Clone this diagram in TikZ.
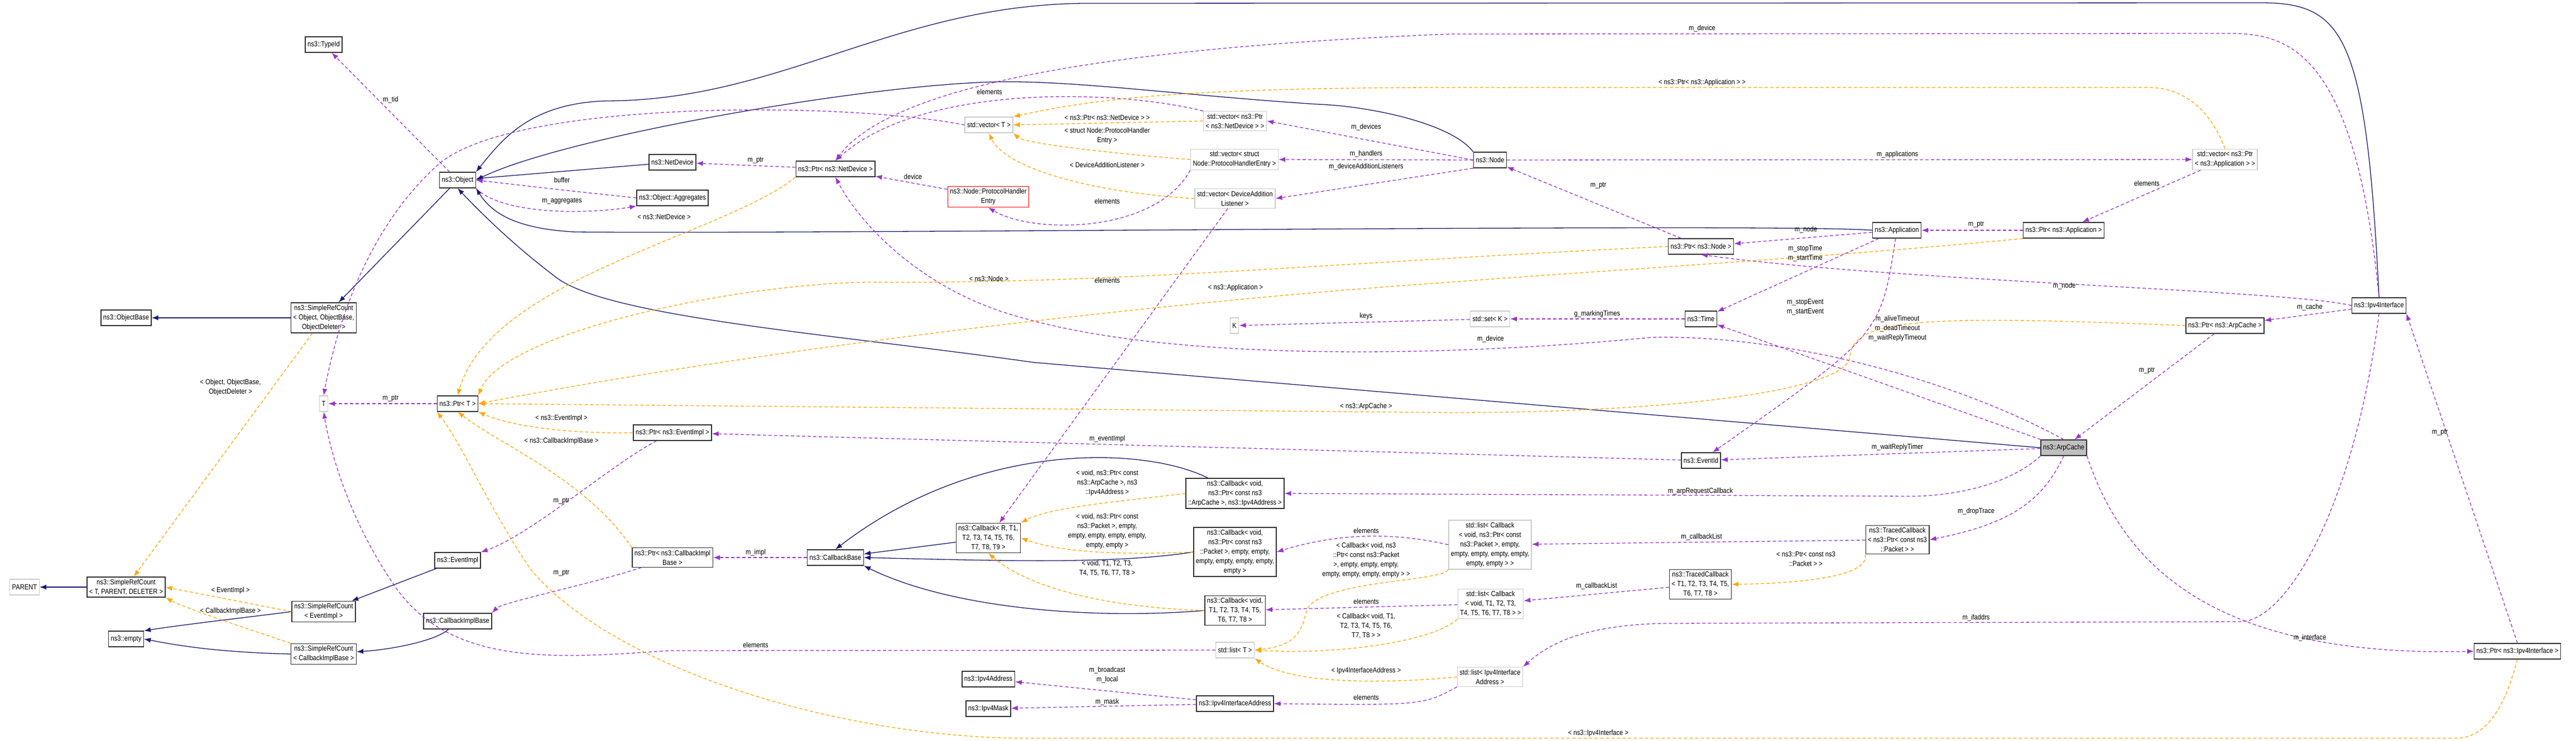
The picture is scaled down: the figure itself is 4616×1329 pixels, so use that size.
\documentclass[tikz,border=0pt]{standalone}
\usepackage{fontspec}
\setmainfont{Liberation Sans}[FakeStretch=0.86]
\usetikzlibrary{arrows.meta}
\definecolor{navyc}{HTML}{191970}
\definecolor{purp}{HTML}{9A32CD}
\definecolor{orng}{HTML}{FFA500}
\begin{document}
\begin{tikzpicture}[x=1pt,y=-1pt,
  box/.style={draw=black!80,line width=1.4pt,fill=white,inner sep=4pt,minimum height=28pt,align=center,font=\fontsize{13}{17}\selectfont},
  gbox/.style={box,draw=black!20},
  rbox/.style={box,draw=red},
  lab/.style={inner sep=0pt,align=center,font=\fontsize{13}{17}\selectfont},
  inh/.style={draw=navyc,line width=1.3pt,-{Latex[length=12pt,width=9pt]}},
  use/.style={draw=purp,line width=1.3pt,dash pattern=on 6pt off 4pt,-{Latex[length=12pt,width=9pt]}},
  tmpl/.style={draw=orng,line width=1.3pt,dash pattern=on 6pt off 4pt,-{Latex[length=12pt,width=9pt]}}]
\useasboundingbox (0,0) rectangle (4616,1329);
% nodes
\node[box] (typeid) at (580,80) {ns3::TypeId};
\node[box] (obj) at (820,323) {ns3::Object};
\node[box] (src0) at (580,570) {ns3::SimpleRefCount\\< Object, ObjectBase,\\ObjectDeleter >};
\node[box] (objbase) at (226,570) {ns3::ObjectBase};
\node[box] (netdev) at (1205,291) {ns3::NetDevice};
\node[box] (agg) at (1205,355) {ns3::Object::Aggregates};
\node[box] (ptrnd) at (1497,303) {ns3::Ptr< ns3::NetDevice >};
\node[rbox] (phe) at (1771,353) {ns3::Node::ProtocolHandler\\Entry};
\node[gbox] (vecT) at (1772,224) {std::vector< T >};
\node[gbox] (vecnd) at (2213,217) {std::vector< ns3::Ptr\\< ns3::NetDevice > >};
\node[gbox] (vecphe) at (2212,286) {std::vector< struct\\Node::ProtocolHandlerEntry >};
\node[gbox] (vecdal) at (2213,356) {std::vector< DeviceAddition\\Listener >};
\node[gbox] (K) at (2212,584) {K};
\node[box] (node) at (2670,287) {ns3::Node};
\node[gbox] (vecapp) at (3987,286) {std::vector< ns3::Ptr\\< ns3::Application > >};
\node[box] (app) at (3399,413) {ns3::Application};
\node[box] (ptrapp) at (3698,413) {ns3::Ptr< ns3::Application >};
\node[box] (ptrnode) at (3048,442) {ns3::Ptr< ns3::Node >};
\node[box] (time) at (3048,572) {ns3::Time};
\node[gbox] (setk) at (2670,572) {std::set< K >};
\node[box] (ipv4if) at (4263,548) {ns3::Ipv4Interface};
\node[box] (ptrarp) at (3987,584) {ns3::Ptr< ns3::ArpCache >};
\node[box,fill=black!25] (arp) at (3698,803) {ns3::ArpCache};
\node[box] (evid) at (3048,826) {ns3::EventId};
\node[box] (tcPkt) at (3400,968) {ns3::TracedCallback\\< ns3::Ptr< const ns3\\::Packet > >};
\node[box] (tcT) at (3047,1048) {ns3::TracedCallback\\< T1, T2, T3, T4, T5,\\T6, T7, T8 >};
\node[box] (ptripv4) at (4511,1168) {ns3::Ptr< ns3::Ipv4Interface >};
\node[gbox] (lstPkt) at (2670,977) {std::list< Callback\\< void, ns3::Ptr< const\\ns3::Packet >, empty,\\empty, empty, empty, empty,\\empty, empty > >};
\node[gbox] (lstT8) at (2671,1083) {std::list< Callback\\< void, T1, T2, T3,\\T4, T5, T6, T7, T8 > >};
\node[gbox] (lstIA) at (2670,1214) {std::list< Ipv4Interface\\Address >};
\node[box] (ptrev) at (1205,776) {ns3::Ptr< ns3::EventImpl >};
\node[box] (ptrcb) at (1205,1000) {ns3::Ptr< ns3::CallbackImpl\\Base >};
\node[box] (cbbase) at (1497,1000) {ns3::CallbackBase};
\node[box] (cbR) at (1771,965) {ns3::Callback< R, T1,\\T2, T3, T4, T5, T6,\\T7, T8, T9 >};
\node[box] (cbArp) at (2213,885) {ns3::Callback< void,\\ns3::Ptr< const ns3\\::ArpCache >, ns3::Ipv4Address >};
\node[box] (cbPkt) at (2213,990) {ns3::Callback< void,\\ns3::Ptr< const ns3\\::Packet >, empty, empty,\\empty, empty, empty, empty,\\empty >};
\node[box] (cbT) at (2213,1095) {ns3::Callback< void,\\T1, T2, T3, T4, T5,\\T6, T7, T8 >};
\node[gbox] (lstTT) at (2213,1166) {std::list< T >};
\node[box] (ipaddr) at (1771,1218) {ns3::Ipv4Address};
\node[box] (ipmask) at (1771,1271) {ns3::Ipv4Mask};
\node[box] (ia) at (2213,1262) {ns3::Ipv4InterfaceAddress};
\node[gbox] (T) at (580,724) {T};
\node[box] (ptrT) at (820,724) {ns3::Ptr< T >};
\node[box] (evimpl) at (820,1005) {ns3::EventImpl};
\node[box] (cbimpl) at (820,1114) {ns3::CallbackImplBase};
\node[box] (srcEv) at (580,1097) {ns3::SimpleRefCount\\< EventImpl >};
\node[box] (srcCb) at (580,1173) {ns3::SimpleRefCount\\< CallbackImplBase >};
\node[box] (srcT) at (226,1053) {ns3::SimpleRefCount\\< T, PARENT, DELETER >};
\node[gbox] (parent) at (44,1053) {PARENT};
\node[box] (empty) at (226,1146) {ns3::empty};
% inheritance
\draw[inh] (obj) -- (src0);
\draw[inh] (src0) -- (objbase);
\draw[inh] (netdev) -- (obj);
\draw[inh] (node.north west) .. controls (2600,220) and (2450,190) .. (2361,187) .. controls (2100,170) and (1900,140) .. (1753,148) .. controls (1500,160) and (1000,250) .. (obj.east);
\draw[inh] (app.west) .. controls (3200,400) and (1500,420) .. (1030,416) .. controls (920,410) and (880,380) .. (obj.south east);
\draw[inh] (ipv4if.north) .. controls (4240,60) and (4200,5) .. (4050,5) -- (1941,6) .. controls (1600,10) and (1400,180) .. (1087,181) .. controls (950,185) and (900,250) .. (obj.north east);
\draw[inh] (arp.west) -- (1852,650) .. controls (1500,600) and (1100,570) .. (1000,500) .. controls (920,440) and (860,380) .. (obj.south);
\draw[inh] (cbR) -- (cbbase);
\draw[inh] ([xshift=40pt]cbArp.north west) .. controls (2050,800) and (1750,790) .. (cbbase.north);
\draw[inh] (cbPkt.west) .. controls (2000,1012) and (1800,1006) .. (cbbase.east);
\draw[inh] (cbT.west) .. controls (1950,1112) and (1700,1090) .. (cbbase.south east);
\draw[inh] (evimpl) -- (srcEv);
\draw[inh] (cbimpl) .. controls (780,1150) and (700,1165) .. (srcCb);
\draw[inh] (srcEv.west) .. controls (420,1110) and (330,1120) .. (empty.north east);
\draw[inh] (srcCb.west) .. controls (400,1170) and (330,1160) .. (empty.east);
\draw[inh] (srcT) -- (parent);
% usage
\draw[use] (obj) -- (typeid);
\draw[use] (agg.west) .. controls (1000,340) .. (obj.east);
\draw[use] (obj.south east) .. controls (900,385) and (1050,385) .. (agg.south west);
\draw[use] (ptrnd) -- (netdev);
\draw[use] (phe) -- (ptrnd);
\draw[use] (vecnd.north west) .. controls (2000,160) and (1650,150) .. (ptrnd.north);
\draw[use] (vecT.west) .. controls (1500,180) and (900,180) .. (780,300) .. controls (650,420) and (600,600) .. (T.north);
\draw[use] (node.west) -- (vecnd.east);
\draw[use] (node.west) -- (vecphe.east);
\draw[use] (node.south west) -- (vecdal.east);
\draw[use] (node) -- (vecapp);
\draw[use] (vecapp) -- (ptrapp);
\draw[use] (ptrapp) -- (app);
\draw[use] (app) -- (ptrnode);
\draw[use] (ptrnode) -- (node);
\draw[use] (app) -- (time);
\draw[use] (app) .. controls (3370,600) .. (evid);
\draw[use] (vecphe.south west) .. controls (2070,420) and (1850,420) .. (phe.south);
\draw[use] (vecdal) -- (cbR);
\draw[use] (setk) -- (K);
\draw[use] (time) -- (setk);
\draw[use] (ipv4if.north) .. controls (4220,90) and (4100,60) .. (3995,60) -- (2600,61) .. controls (2000,85) and (1600,150) .. (ptrnd.north);
\draw[use] (arp.north) .. controls (3500,680) and (3200,600) .. (2960,605) .. controls (2600,640) and (2100,650) .. (1825,568) .. controls (1650,520) and (1540,400) .. (ptrnd.south);
\draw[use] (arp) -- (time);
\draw[use] (ptrarp) -- (arp);
\draw[use] (ipv4if) -- (ptrarp);
\draw[use] (ipv4if.west) .. controls (4100,520) and (3400,505) .. (ptrnode.south);
\draw[use] (arp) -- (evid);
\draw[use] (arp.south west) .. controls (3600,870) and (3500,890) .. (3423,890) -- (cbArp.east);
\draw[use] (arp.south) .. controls (3660,900) and (3600,940) .. (tcPkt.east);
\draw[use] (tcPkt) -- (lstPkt);
\draw[use] (tcT) -- (lstT8);
\draw[use] (lstPkt.west) .. controls (2500,955) and (2400,955) .. (cbPkt.east);
\draw[use] (lstT8) -- (cbT);
\draw[use] (lstIA.south west) .. controls (2550,1265) .. (ia.east);
\draw[use] (ia) -- (ipaddr);
\draw[use] (ia) -- (ipmask);
\draw[use] (ipv4if.south) .. controls (4220,900) and (4100,1115) .. (4014,1115) -- (2986,1118) .. controls (2850,1120) and (2780,1150) .. (lstIA.north east);
\draw[use] (arp.south east) .. controls (3800,1000) and (3950,1180) .. (ptripv4.west);
\draw[use] (ptripv4.north) -- (ipv4if.south east);
\draw[use] (evid) -- (ptrev);
\draw[use] (ptrev) .. controls (1100,830) and (950,960) .. (evimpl.north east);
\draw[use] (ptrcb) .. controls (1050,1050) and (900,1080) .. (cbimpl.north east);
\draw[use] (cbbase) -- (ptrcb);
\draw[use] (ptrT) -- (T);
\draw[use] (lstTT.west) -- (1200,1167) .. controls (1000,1180) and (800,1200) .. (700,1040) .. controls (620,920) and (590,800) .. (T.south);
% templates
\draw[tmpl] (src0) -- (srcT);
\draw[tmpl] (srcEv.west) -- (srcT.east);
\draw[tmpl] (srcCb.north west) .. controls (450,1130) and (330,1090) .. (srcT.south east);
\draw[tmpl] (ptrnd.south west) .. controls (1300,420) and (880,500) .. (ptrT.north);
\draw[tmpl] (ptrnode.west) .. controls (2400,470) and (2000,510) .. (1557,506) .. controls (1300,510) and (900,600) .. (ptrT.north east);
\draw[tmpl] (ptrapp.south west) .. controls (3300,460) and (2800,490) .. (2600,506) .. controls (2100,540) and (1400,620) .. (ptrT.east);
\draw[tmpl] (ptrarp.west) .. controls (3450,565) and (3320,570) .. (3315,640) .. controls (3310,700) and (3000,740) .. (2600,740) -- (ptrT.east);
\draw[tmpl] (ptrev.west) .. controls (1050,778) and (930,770) .. (ptrT.south east);
\draw[tmpl] (ptrcb.north west) .. controls (1050,860) and (900,800) .. (ptrT.south);
\draw[tmpl] (ptripv4.south) .. controls (4490,1260) and (4460,1324) .. (4400,1324) -- (1825,1324) .. controls (1500,1320) and (1100,1200) .. (950,1020) .. controls (870,900) and (830,800) .. (ptrT.south west);
\draw[tmpl] (vecnd.west) -- (vecT.east);
\draw[tmpl] (vecphe.west) .. controls (2050,280) and (1840,260) .. (vecT.south east);
\draw[tmpl] (vecdal.west) .. controls (1950,345) and (1800,300) .. (vecT.south);
\draw[tmpl] (vecapp.north) .. controls (3970,220) and (3930,157) .. (3850,157) -- (2600,157) .. controls (2100,157) and (1950,180) .. (vecT.north east);
\draw[tmpl] (cbArp.west) .. controls (2000,900) and (1880,910) .. (cbR.north east);
\draw[tmpl] (cbPkt.west) .. controls (2000,996) and (1900,990) .. (cbR.east);
\draw[tmpl] (cbT.west) .. controls (2000,1090) and (1850,1060) .. (cbR.south);
\draw[tmpl] (lstPkt.south west) .. controls (2580,1045) and (2350,1040) .. (2340,1100) .. controls (2330,1150) and (2300,1160) .. (lstTT.east);
\draw[tmpl] (lstT8.south west) .. controls (2570,1150) and (2400,1175) .. (lstTT.east);
\draw[tmpl] (lstIA.west) .. controls (2500,1225) and (2320,1230) .. (lstTT.south east);
\draw[tmpl] (tcPkt.south west) .. controls (3350,1030) and (3250,1046) .. (tcT.east);
% labels
\node[lab] (l1) at (700,179) {m\_tid};
\node[lab] (l2) at (1007,323) {buffer};
\node[lab] (l3) at (1007,361) {m\_aggregates};
\node[lab] (l4) at (1190,389) {< ns3::NetDevice >};
\node[lab] (l5) at (1354,288) {m\_ptr};
\node[lab] (l6) at (1636,317) {device};
\node[lab] (l7) at (1773,165) {elements};
\node[lab] (l8) at (1984,211) {< ns3::Ptr< ns3::NetDevice > >};
\node[lab] (l9) at (1984,244) {< struct Node::ProtocolHandler\\Entry >};
\node[lab] (l10) at (1984,296) {< DeviceAdditionListener >};
\node[lab] (l11) at (1984,361) {elements};
\node[lab] (l12) at (2448,228) {m\_devices};
\node[lab] (l13) at (2448,276) {m\_handlers};
\node[lab] (l14) at (2448,299) {m\_deviceAdditionListeners};
\node[lab] (l15) at (1772,500) {< ns3::Node >};
\node[lab] (l16) at (1984,503) {elements};
\node[lab] (l17) at (2214,516) {< ns3::Application >};
\node[lab] (l18) at (2448,567) {keys};
\node[lab] (l19) at (3050,51) {m\_device};
\node[lab] (l20) at (3050,148) {< ns3::Ptr< ns3::Application > >};
\node[lab] (l21) at (3400,277) {m\_applications};
\node[lab] (l22) at (2864,333) {m\_ptr};
\node[lab] (l23) at (3847,329) {elements};
\node[lab] (l24) at (3541,403) {m\_ptr};
\node[lab] (l25) at (3236,412) {m\_node};
\node[lab] (l26) at (3235,455) {m\_stopTime\\m\_startTime};
\node[lab] (l27) at (3699,513) {m\_node};
\node[lab] (l28) at (3235,551) {m\_stopEvent\\m\_startEvent};
\node[lab] (l29) at (4139,551) {m\_cache};
\node[lab] (l30) at (2862,563) {g\_markingTimes};
\node[lab] (l31) at (3400,589) {m\_aliveTimeout\\m\_deadTimeout\\m\_waitReplyTimeout};
\node[lab] (l32) at (2671,608) {m\_device};
\node[lab] (l33) at (3847,665) {m\_ptr};
\node[lab] (l34) at (3400,802) {m\_waitReplyTimer};
\node[lab] (l35) at (3047,881) {m\_arpRequestCallback};
\node[lab] (l36) at (3541,917) {m\_dropTrace};
\node[lab] (l37) at (3049,963) {m\_callbackList};
\node[lab] (l38) at (3236,1003) {< ns3::Ptr< const ns3\\::Packet > >};
\node[lab] (l39) at (2861,1051) {m\_callbackList};
\node[lab] (l40) at (3541,1108) {m\_ifaddrs};
\node[lab] (l41) at (4139,1144) {m\_interface};
\node[lab] (l42) at (4372,776) {m\_ptr};
\node[lab] (l43) at (2864,1315) {< ns3::Ipv4Interface >};
\node[lab] (l44) at (2448,729) {< ns3::ArpCache >};
\node[lab] (l45) at (1984,787) {m\_eventImpl};
\node[lab] (l46) at (1984,866) {< void, ns3::Ptr< const\\ns3::ArpCache >, ns3\\::Ipv4Address >};
\node[lab] (l47) at (1984,953) {< void, ns3::Ptr< const\\ns3::Packet >, empty,\\empty, empty, empty, empty,\\empty, empty >};
\node[lab] (l48) at (1984,1019) {< void, T1, T2, T3,\\T4, T5, T6, T7, T8 >};
\node[lab] (l49) at (1354,991) {m\_impl};
\node[lab] (l50) at (2448,952) {elements};
\node[lab] (l51) at (2448,1005) {< Callback< void, ns3\\::Ptr< const ns3::Packet\\>, empty, empty, empty,\\empty, empty, empty, empty > >};
\node[lab] (l52) at (2448,1079) {elements};
\node[lab] (l53) at (2448,1123) {< Callback< void, T1,\\T2, T3, T4, T5, T6,\\T7, T8 > >};
\node[lab] (l54) at (1354,1157) {elements};
\node[lab] (l55) at (2448,1203) {< Ipv4InterfaceAddress >};
\node[lab] (l56) at (1984,1211) {m\_broadcast\\m\_local};
\node[lab] (l57) at (1984,1259) {m\_mask};
\node[lab] (l58) at (2448,1251) {elements};
\node[lab] (l59) at (413,695) {< Object, ObjectBase,\\ObjectDeleter >};
\node[lab] (l60) at (700,715) {m\_ptr};
\node[lab] (l61) at (1006,750) {< ns3::EventImpl >};
\node[lab] (l62) at (1006,791) {< ns3::CallbackImplBase >};
\node[lab] (l63) at (1006,899) {m\_ptr};
\node[lab] (l64) at (1006,1028) {m\_ptr};
\node[lab] (l65) at (413,1059) {< EventImpl >};
\node[lab] (l66) at (413,1096) {< CallbackImplBase >};
\end{tikzpicture}
\end{document}
